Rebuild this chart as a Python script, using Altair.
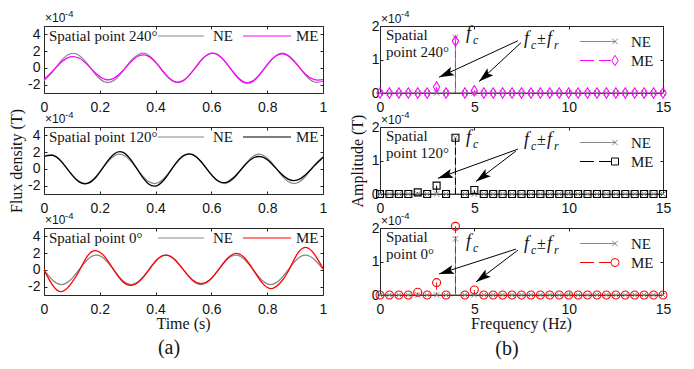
import altair as alt
import pandas as pd

# ---------------- data (values in units of 1e-4 T) ----------------
t = [0, 0.03125, 0.0625, 0.09375, 0.125, 0.15625, 0.1875, 0.21875, 0.25, 0.28125,
     0.3125, 0.34375, 0.375, 0.40625, 0.4375, 0.46875, 0.5, 0.53125, 0.5625, 0.59375,
     0.625, 0.65625, 0.6875, 0.71875, 0.75, 0.78125, 0.8125, 0.84375, 0.875, 0.90625,
     0.9375, 0.96875, 1.0]

ne_240 = [-1.52, -0.45, 0.88, 1.69, 1.52, 0.45, -0.88, -1.69,
          -1.52, -0.45, 0.88, 1.69, 1.52, 0.45, -0.88, -1.69,
          -1.52, -0.45, 0.88, 1.69, 1.52, 0.45, -0.88, -1.69,
          -1.52, -0.45, 0.88, 1.69, 1.52, 0.45, -0.88, -1.69, -1.60]
me_240 = [-1.39, -0.37, 0.70, 1.31, 1.18, 0.36, -0.70, -1.37,
          -1.26, -0.38, 0.76, 1.49, 1.37, 0.42, -0.83, -1.64,
          -1.49, -0.45, 0.87, 1.70, 1.53, 0.46, -0.91, -1.77,
          -1.58, -0.46, 0.87, 1.62, 1.42, 0.41, -0.76, -1.41, -1.40]

ne_120 = [1.52, 1.69, 0.88, -0.45, -1.52, -1.69, -0.88, 0.45,
          1.52, 1.69, 0.88, -0.45, -1.52, -1.69, -0.88, 0.45,
          1.52, 1.69, 0.88, -0.45, -1.52, -1.69, -0.88, 0.45,
          1.52, 1.69, 0.88, -0.45, -1.52, -1.69, -0.88, 0.45, 1.45]
me_120 = [1.48, 1.60, 0.87, -0.45, -1.52, -1.73, -0.94, 0.51,
          1.76, 2.01, 1.04, -0.54, -1.80, -1.99, -1.00, 0.50,
          1.59, 1.73, 0.88, -0.44, -1.45, -1.57, -0.79, 0.40,
          1.30, 1.42, 0.73, -0.37, -1.22, -1.35, -0.70, 0.36, 1.36]

ne_0 = [0.0, -1.24, -1.75, -1.24, 0.0, 1.24, 1.75, 1.24,
        0.0, -1.24, -1.75, -1.24, 0.0, 1.24, 1.75, 1.24,
        0.0, -1.24, -1.75, -1.24, 0.0, 1.24, 1.75, 1.24,
        0.0, -1.24, -1.75, -1.24, 0.0, 1.24, 1.75, 1.24, 0.10]
me_0 = [0.0, -1.84, -2.60, -1.78, -0.20, 1.67, 2.28, 1.53,
        0.0, -1.38, -1.84, -1.29, -0.05, 1.26, 1.76, 1.22,
        0.0, -1.17, -1.64, -1.22, 0.0, 1.33, 1.96, 1.44,
        0.0, -1.53, -2.24, -1.66, -0.20, 1.82, 2.68, 1.89, 0.15]

freq = [0.0, 0.5, 1.0, 1.5, 2.0, 2.5, 3.0, 3.5, 4.0, 4.5, 5.0, 5.5, 6.0, 6.5, 7.0, 7.5,
        8.0, 8.5, 9.0, 9.5, 10.0, 10.5, 11.0, 11.5, 12.0, 12.5, 13.0, 13.5, 14.0, 14.5, 15.0]
amp_ne_240 = [0, 0, 0, 0, 0, 0, 0, 0, 1.65, 0, 0, 0, 0, 0, 0, 0,
              0, 0, 0, 0, 0, 0, 0, 0, 0, 0, 0, 0, 0, 0, 0]
amp_me_240 = [0, 0, 0, 0, 0, 0, 0.18, 0, 1.55, 0, 0.07, 0, 0, 0, 0, 0,
              0, 0, 0, 0, 0, 0, 0, 0, 0, 0, 0, 0, 0, 0, 0]
amp_ne_120 = [0, 0, 0, 0, 0, 0, 0, 0, 1.68, 0, 0, 0, 0, 0, 0, 0,
              0, 0, 0, 0, 0, 0, 0, 0, 0, 0, 0, 0, 0, 0, 0]
amp_me_120 = [0, 0, 0, 0, 0.05, 0, 0.25, 0, 1.68, 0, 0.12, 0, 0, 0, 0, 0,
              0, 0, 0, 0, 0, 0, 0, 0, 0, 0, 0, 0, 0, 0, 0]
amp_ne_0 = [0, 0, 0, 0, 0, 0, 0, 0, 1.68, 0, 0, 0, 0, 0, 0, 0,
            0, 0, 0, 0, 0, 0, 0, 0, 0, 0, 0, 0, 0, 0, 0]
amp_me_0 = [0, 0, 0, 0, 0.08, 0, 0.37, 0, 2.05, 0, 0.15, 0, 0, 0, 0, 0,
            0, 0, 0, 0, 0, 0, 0, 0, 0, 0, 0, 0, 0, 0, 0]

# annotation arrows: [x_start, y_start, x_tip, y_tip, angle]
arrows_240 = [[7.31, 1.56, 3.13, 0.47, 246], [7.47, 1.50, 5.25, 0.34, 229]]
arrows_120 = [[7.31, 1.34, 3.07, 0.47, 251], [7.20, 1.28, 5.09, 0.375, 234]]
arrows_0 = [[7.20, 1.37, 3.13, 0.63, 253], [7.31, 1.34, 5.09, 0.39, 234]]

x_ticks_t = [0, 0.2, 0.4, 0.6, 0.8, 1]
y_ticks_t = [-2, 0, 2, 4]
x_ticks_f = [0, 5, 10, 15]
y_ticks_f = [0, 1, 2]

# ---------------- style ----------------
SERIF = "Liberation Serif"
SANS = "Liberation Sans"
AX = "#262626"
TXT = "#141414"
GRAY = "#888888"
W_L, W_R, H = 279, 283, 67
XPATH = "M-1,-1L1,1M1,-1L-1,1"
HEAD = "M0,0L0.6,2L0,1.6L-0.6,2Z"
DIAMOND = "M0,-1.3L0.8,0L0,1.3L-0.8,0Z"

one = pd.DataFrame({"k": [0]})


def axis(orient, values, labels=True, title=None, lp=6, tp=4):
    return alt.Axis(orient=orient, values=values, labels=labels, title=title,
                    tickSize={"expr": "-3"}, labelPadding=lp, titlePadding=tp,
                    titleFontWeight=400, titleFont=SERIF, titleFontSize=16,
                    labelExpr="'' + datum.value")


def ptext(s, x, y, size=15, font=SERIF, align="left"):
    return alt.Chart(one).mark_text(text=s, align=align, baseline="alphabetic", font=font,
                                    fontSize=size, fontWeight=400, color=TXT).encode(
        x=alt.value(x), y=alt.value(y))


def prule(x1, x2, y, color, dash=None, width=1.2):
    kw = dict(color=color, strokeWidth=width)
    if dash:
        kw["strokeDash"] = dash
    return alt.Chart(one).mark_rule(**kw).encode(x=alt.value(x1), x2=alt.value(x2), y=alt.value(y))


def ppoint(x, y, shape, size, color):
    return alt.Chart(one).mark_point(shape=shape, size=size, color=color, filled=False,
                                     strokeWidth=1, opacity=1).encode(
        x=alt.value(x), y=alt.value(y))


def left_panel(ne, me, color, label, ytitle=None, xtitle=None, letter=None):
    df = pd.DataFrame({"t": t, "NE": ne, "ME": me})
    xs = alt.Scale(domain=[0, 1], nice=False, zero=False)
    ys = alt.Scale(domain=[-3, 5], nice=False, zero=False)
    ne_line = alt.Chart(df).mark_line(color=GRAY, strokeWidth=1.2, interpolate="natural").encode(
        x=alt.X("t:Q", scale=xs, axis=axis("bottom", x_ticks_t, lp=10, tp=0)),
        y=alt.Y("NE:Q", scale=ys, axis=axis("left", y_ticks_t, title=ytitle, lp=7, tp=3)))
    me_line = alt.Chart(df).mark_line(color=color, strokeWidth=1.3, interpolate="natural").encode(
        x=alt.X("t:Q", scale=xs, axis=axis("top", x_ticks_t, labels=False)),
        y=alt.Y("ME:Q", scale=ys, axis=axis("right", y_ticks_t, labels=False)))
    layers = [ne_line, me_line,
              ptext(label, 5, 15),
              prule(114, 160, 10, GRAY), ptext("NE", 169, 15),
              prule(199, 247, 10, color), ptext("ME", 252, 15),
              ptext("×10", 1, -4, size=12, font=SANS),
              ptext("-4", 21, -9.5, size=9.5, font=SANS)]
    if xtitle:
        layers.append(ptext(xtitle, W_L / 2, H + 34, size=16, align="center"))
    if letter:
        layers.append(ptext(letter, 125, H + 59, size=20, align="center"))
    return alt.layer(*layers).resolve_axis(x="independent", y="independent").properties(
        width=W_L, height=H)


def dtext(s, x, y, xs, ys, dx=0, dy=0, size=18, style="italic"):
    d = pd.DataFrame({"x": [x], "y": [y]})
    return alt.Chart(d).mark_text(text=s, align="left", baseline="alphabetic", font=SERIF,
                                  fontSize=size, fontStyle=style, color=TXT, dx=dx, dy=dy).encode(
        x=alt.X("x:Q", scale=xs, axis=None), y=alt.Y("y:Q", scale=ys, axis=None))


def right_panel(ne_amp, me_amp, color, shape, msize, lab2, arrows, fc_y, fr_y,
                ytitle=None, xtitle=None, letter=None):
    df = pd.DataFrame({"f": freq, "NE": ne_amp, "ME": me_amp, "z": [0.0] * len(freq)})
    xs = alt.Scale(domain=[0, 15], nice=False, zero=False)
    ys = alt.Scale(domain=[0, 2], nice=False, zero=False)
    zero = pd.DataFrame({"z": [0.0]})
    base_rule = alt.Chart(zero).mark_rule(color="#555555", strokeWidth=1).encode(
        y=alt.Y("z:Q", scale=ys, axis=None))
    ne_stem = alt.Chart(df).mark_rule(color=GRAY, strokeWidth=1).encode(
        x=alt.X("f:Q", scale=xs, axis=None), y=alt.Y("NE:Q", scale=ys, axis=None), y2="z:Q")
    me_stem = alt.Chart(df).mark_rule(color=color, strokeWidth=1, strokeDash=[7, 3]).encode(
        x=alt.X("f:Q", scale=xs, axis=None), y=alt.Y("ME:Q", scale=ys, axis=None), y2="z:Q")
    ne_pts = alt.Chart(df).mark_point(shape=XPATH, size=30, color=GRAY, strokeWidth=1,
                                      opacity=1).encode(
        x=alt.X("f:Q", scale=xs, axis=axis("bottom", x_ticks_f, lp=10, tp=0)),
        y=alt.Y("NE:Q", scale=ys, axis=axis("left", y_ticks_f, title=ytitle, lp=4, tp=6)))
    me_pts = alt.Chart(df).mark_point(shape=shape, size=msize, color=color, strokeWidth=1.1,
                                      opacity=1).encode(
        x=alt.X("f:Q", scale=xs, axis=axis("top", x_ticks_f, labels=False)),
        y=alt.Y("ME:Q", scale=ys, axis=axis("right", y_ticks_f, labels=False)))
    adf = pd.DataFrame(arrows, columns=["x", "y", "x2", "y2", "ang"])
    a_lines = alt.Chart(adf).mark_rule(color="black", strokeWidth=1).encode(
        x=alt.X("x:Q", scale=xs, axis=None), y=alt.Y("y:Q", scale=ys, axis=None),
        x2="x2:Q", y2="y2:Q")
    a_heads = alt.Chart(adf).mark_point(shape=HEAD, size=225, filled=True, color="black",
                                        strokeWidth=0, opacity=1).encode(
        x=alt.X("x2:Q", scale=xs, axis=None), y=alt.Y("y2:Q", scale=ys, axis=None),
        angle=alt.Angle("ang:Q", scale=None))
    layers = [base_rule, ne_stem, me_stem, ne_pts, me_pts, a_lines, a_heads,
              dtext("f", 4.56, fc_y, xs, ys),
              dtext("c", 4.56, fc_y, xs, ys, dx=7, dy=5, size=12),
              dtext("f", 7.63, fr_y, xs, ys),
              dtext("c", 7.63, fr_y, xs, ys, dx=7, dy=5, size=12),
              dtext("±", 7.63, fr_y, xs, ys, dx=13, size=16, style="normal"),
              dtext("f", 7.63, fr_y, xs, ys, dx=23),
              dtext("r", 7.63, fr_y, xs, ys, dx=30, dy=5, size=12),
              ptext("Spatial", 6, 14), ptext(lab2, 6, 31),
              prule(200, 236, 15.5, GRAY, width=1), ppoint(235, 15.5, XPATH, 30, GRAY),
              ptext("NE", 251, 20.5),
              prule(200, 231, 34.5, color, dash=[14, 5], width=1),
              ppoint(235, 34.5, shape, msize, color),
              ptext("ME", 251, 39.5),
              ptext("×10", 1, -3.5, size=12, font=SANS),
              ptext("-4", 21, -9, size=9.5, font=SANS)]
    if xtitle:
        layers.append(ptext(xtitle, W_R / 2, H + 34, size=16, align="center"))
    if letter:
        layers.append(ptext(letter, 127, H + 60, size=20, align="center"))
    return alt.layer(*layers).resolve_axis(x="independent", y="independent").properties(
        width=W_R, height=H)


panels = [
    left_panel(ne_240, me_240, "#ff00ff", "Spatial point 240°"),
    right_panel(amp_ne_240, amp_me_240, "#ff00ff", DIAMOND, 64, "point 240°", arrows_240, 1.60, 1.45),
    left_panel(ne_120, me_120, "#000000", "Spatial point 120°", ytitle="Flux density (T)"),
    right_panel(amp_ne_120, amp_me_120, "#000000", "square", 49, "point 120°", arrows_120, 1.51, 1.46,
                ytitle="Amplitude (T)"),
    left_panel(ne_0, me_0, "#ff0000", "Spatial point 0°", xtitle="Time (s)", letter="(a)"),
    right_panel(amp_ne_0, amp_me_0, "#ff0000", "circle", 64, "point 0°", arrows_0, 1.42, 1.36,
                xtitle="Frequency (Hz)", letter="(b)"),
]

chart = alt.concat(*panels, columns=2, spacing={"row": 34, "column": 57}, bounds="flush").properties(
    padding={"left": 0, "top": 0, "right": 4, "bottom": 4}
).configure_view(stroke=AX, strokeWidth=1).configure_axis(
    labelFont=SANS, labelFontSize=14, labelColor=TXT, titleFont=SERIF, titleFontSize=16,
    titleFontWeight="normal", titleColor=TXT, tickColor=AX, tickWidth=1, domain=False,
    grid=False, labelFlush=False, labelOverlap=False)

chart.save("out.html", embed_options={"renderer": "svg", "actions": False})
